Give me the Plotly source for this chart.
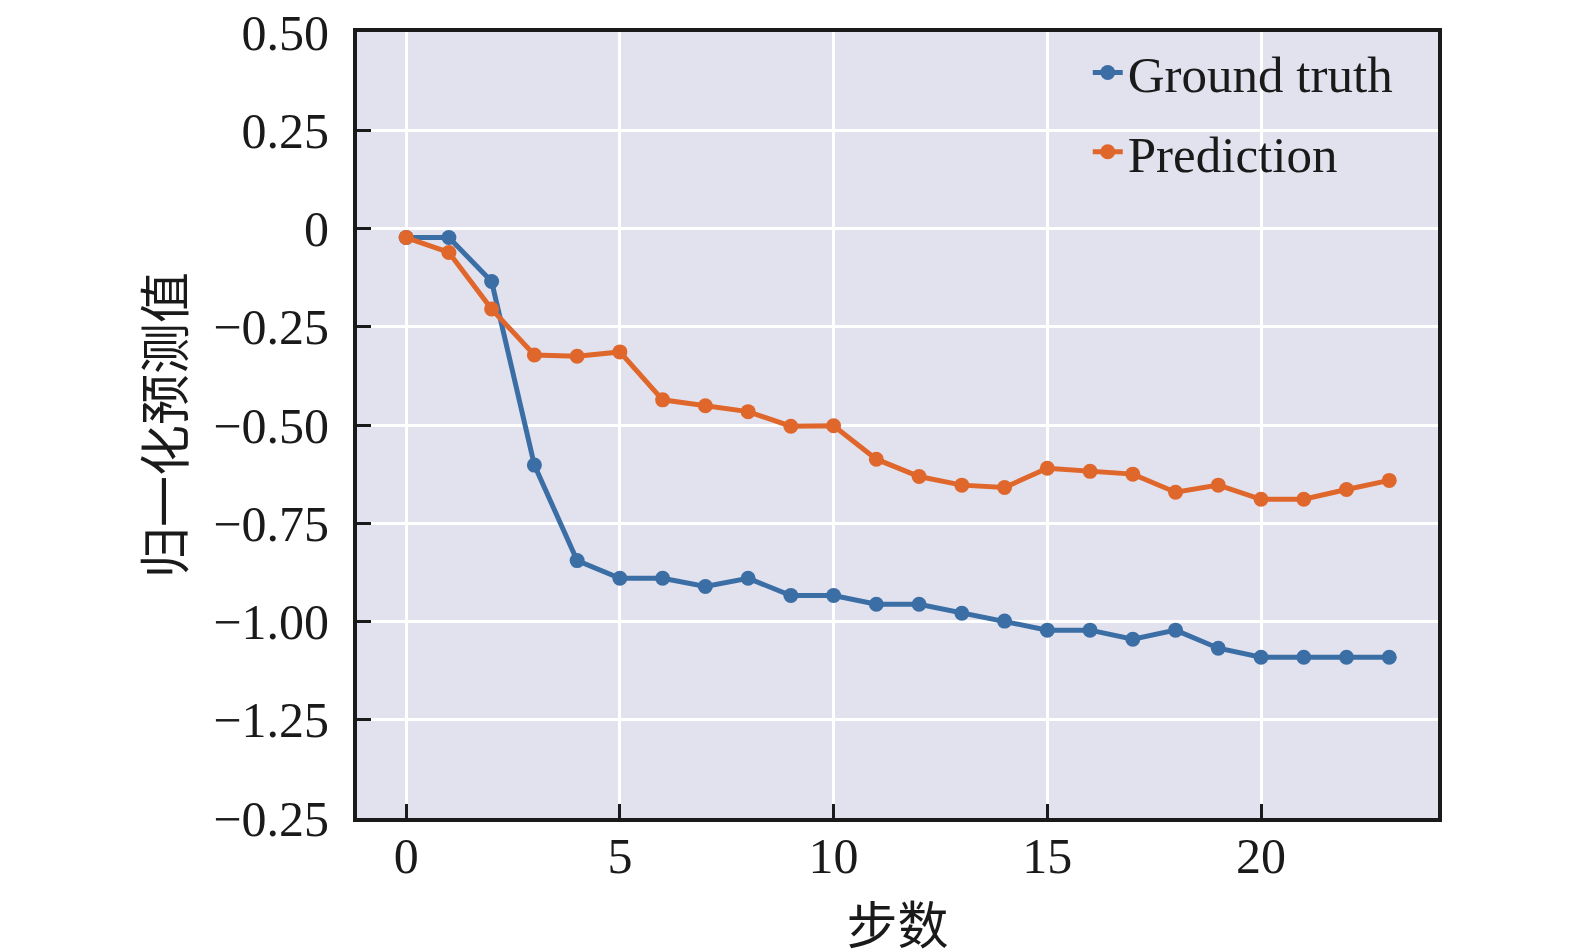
import plotly.graph_objects as go

# données
steps = list(range(24))
ground_truth = [-0.023, -0.023, -0.135, -0.602, -0.845, -0.890, -0.890, -0.911,
                -0.890, -0.934, -0.934, -0.956, -0.956, -0.979, -0.999, -1.022,
                -1.022, -1.045, -1.022, -1.068, -1.091, -1.091, -1.091, -1.091]
prediction = [-0.023, -0.061, -0.205, -0.322, -0.325, -0.314, -0.436, -0.451,
              -0.466, -0.503, -0.502, -0.587, -0.631, -0.653, -0.659, -0.610,
              -0.618, -0.625, -0.671, -0.653, -0.689, -0.689, -0.664, -0.641]

y_tickvals = [0.5, 0.25, 0, -0.25, -0.5, -0.75, -1.0, -1.25, -1.5]
y_ticktext = ["0.50", "0.25", "0", "\u22120.25", "\u22120.50", "\u22120.75",
              "\u22121.00", "\u22121.25", "\u22120.25"]
x_tickvals = [0, 5, 10, 15, 20]

BLEU = "#3b6ea5"
ORANGE = "#e0672b"
FOND = "#e2e1ee"
POLICE = "Liberation Serif, Times New Roman, Noto Sans CJK SC, serif"

fig = go.Figure()
fig.add_trace(go.Scatter(
    x=steps, y=ground_truth, mode="lines+markers", name="Ground truth",
    line=dict(color=BLEU, width=5), marker=dict(size=15, color=BLEU),
    legendgroup="gt"
))
fig.add_trace(go.Scatter(
    x=steps, y=prediction, mode="lines+markers", name="Prediction",
    line=dict(color=ORANGE, width=5), marker=dict(size=15, color=ORANGE),
    legendgroup="pred"
))

fig.update_layout(
    width=1575, height=952,
    margin=dict(l=349, r=145, t=24, b=142),
    paper_bgcolor="white",
    plot_bgcolor=FOND,
    font=dict(family=POLICE, size=50, color="#1a1a1a"),
    showlegend=True,
    legend=dict(
        x=0.676, y=0.999, xanchor="left", yanchor="top",
        bgcolor="rgba(0,0,0,0)", borderwidth=0,
        font=dict(size=51, family=POLICE, color="#1a1a1a"),
        tracegroupgap=10, traceorder="grouped"
    ),
)

fig.update_xaxes(
    range=[-1.15, 24.14],
    tickvals=x_tickvals,
    ticks="inside", ticklen=14, tickwidth=3, tickcolor="#1a1a1a",
    showgrid=True, gridcolor="white", gridwidth=3,
    showline=True, linecolor="#1a1a1a", linewidth=4, mirror=True,
    zeroline=False, automargin=False,
    ticklabelstandoff=-9, ticklabeloverflow="allow",
    title=dict(text="步数", font=dict(size=51, family=POLICE), standoff=26),
)
fig.update_yaxes(
    range=[-1.5, 0.5],
    tickvals=y_tickvals, ticktext=y_ticktext,
    ticks="inside", ticklen=14, tickwidth=3, tickcolor="#1a1a1a",
    showgrid=True, gridcolor="white", gridwidth=3,
    showline=True, linecolor="#1a1a1a", linewidth=4, mirror=True,
    zeroline=False, automargin=False,
    ticklabelstandoff=14, ticklabeloverflow="allow",
    title=dict(text="归一化预测值", font=dict(size=51, family=POLICE), standoff=13),
)

fig.write_html("out.html")
